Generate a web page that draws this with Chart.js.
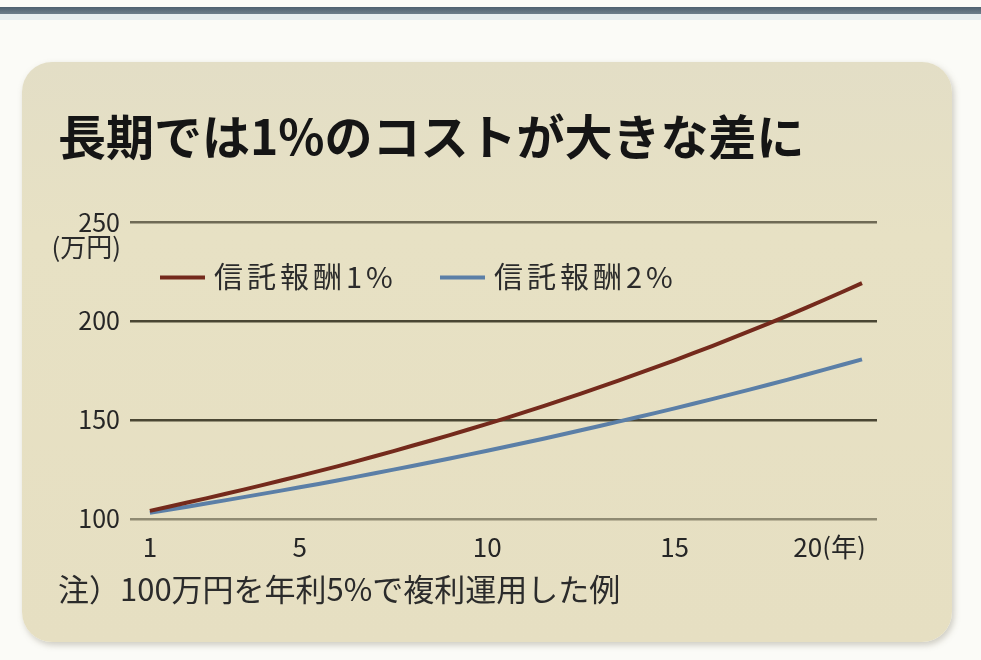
<!DOCTYPE html>
<html lang="ja">
<head>
<meta charset="utf-8">
<script src="https://cdn.jsdelivr.net/npm/chart.js@4.4.1/dist/chart.umd.min.js"></script>
<style>
  html, body { margin: 0; padding: 0; background: #fbfbf7; }
  .wrap { position: relative; width: 981px; height: 660px; overflow: hidden; }
  .topbar { position: absolute; left: 0; top: 7px; width: 981px; height: 7px;
    background: linear-gradient(#4f6170, #6c7e8b); }
  .topbar2 { position: absolute; left: 0; top: 14px; width: 981px; height: 6px; background: #e6eef0; }
  .panel { position: absolute; left: 22px; top: 62px; width: 930px; height: 580px;
    border-radius: 30px; background: linear-gradient(#e3dec6, #e7e1c4 30%, #e6dfc2);
    box-shadow: 2px 3px 6px rgba(120,115,95,0.35); }
  canvas { position: absolute; left: 0; top: 0; }
</style>
</head>
<body>
<div class="wrap">
  <div class="topbar"></div>
  <div class="topbar2"></div>
  <div class="panel"></div>
  <canvas id="costChart" width="981" height="660"></canvas>
</div>
<script>
const years = [1, 2, 3, 4, 5, 6, 7, 8, 9, 10, 11, 12, 13, 14, 15, 16, 17, 18, 19, 20];
const fee1 = [104, 108.2, 112.5, 117, 121.7, 126.5, 131.6, 136.9, 142.3, 148, 153.9, 160.1, 166.5, 173.2, 180.1, 187.3, 194.8, 202.6, 210.7, 219.1];
const fee2 = [103, 106.1, 109.3, 112.6, 115.9, 119.4, 123, 126.7, 130.5, 134.4, 138.4, 142.6, 146.9, 151.3, 155.8, 160.5, 165.3, 170.2, 175.4, 180.6];
const seriesNames = ["信託報酬1%", "信託報酬2%"];
const xTicks = [1, 5, 10, 15, 20];
const yTicks = [100, 150, 200, 250];

const FONT = "'Noto Sans CJK JP', 'Noto Sans', sans-serif";
const RED = "#742a1c";
const BLUE = "#5b7fa7";

// legend + unit label drawn inside the plot, like the print original
const insideLegend = {
  id: "insideLegend",
  afterDraw(chart) {
    const ctx = chart.ctx;
    const area = chart.chartArea;
    const y = chart.scales.y;
    const ly = y.getPixelForValue(222);
    ctx.save();
    ctx.font = "29px " + FONT;
    ctx.letterSpacing = "4px";
    ctx.textBaseline = "middle";
    chart.data.datasets.forEach((ds, i) => {
      const x0 = area.left + 30 + i * 280;
      ctx.strokeStyle = ds.borderColor;
      ctx.lineWidth = 4;
      ctx.beginPath();
      ctx.moveTo(x0, ly);
      ctx.lineTo(x0 + 45, ly);
      ctx.stroke();
      ctx.fillStyle = "#2b2b2b";
      ctx.textAlign = "left";
      ctx.fillText(ds.label, x0 + 54, ly);
    });
    ctx.letterSpacing = "0px";
    ctx.font = "26px " + FONT;
    ctx.textAlign = "right";
    ctx.fillStyle = "#2b2b2b";
    ctx.fillText("(万円)", area.left - 9, y.getPixelForValue(250) + 25);
    ctx.restore();
  },
};

new Chart(document.getElementById("costChart"), {
  type: "line",
  data: {
    datasets: [
      {
        label: seriesNames[0],
        data: years.map((yr, i) => ({ x: yr, y: fee1[i] })),
        borderColor: RED,
        borderWidth: 4,
        pointRadius: 0,
        tension: 0.3,
      },
      {
        label: seriesNames[1],
        data: years.map((yr, i) => ({ x: yr, y: fee2[i] })),
        borderColor: BLUE,
        borderWidth: 4,
        pointRadius: 0,
        tension: 0.3,
      },
    ],
  },
  options: {
    responsive: false,
    animation: false,
    layout: { padding: { left: 58, right: 104, top: 60, bottom: 46 } },
    plugins: {
      legend: { display: false },
      tooltip: { enabled: false },
      title: {
        display: true,
        text: "長期では1%のコストが大きな差に",
        align: "start",
        color: "#151515",
        font: { family: FONT, size: 48, weight: "bold", lineHeight: 1.25 },
        padding: { top: 47, bottom: 55 },
      },
      subtitle: {
        display: true,
        position: "bottom",
        text: "注）100万円を年利5%で複利運用した例",
        align: "start",
        color: "#2b2b2b",
        font: { family: FONT, size: 31, lineHeight: 1.2 },
        padding: { top: 11, bottom: 6 },
      },
    },
    scales: {
      x: {
        type: "linear",
        min: 0.47,
        max: 20.4,
        afterBuildTicks: (scale) => {
          scale.ticks = xTicks.map((v) => ({ value: v }));
        },
        afterFit: (scale) => {
          scale.height = 41;
        },
        grid: { display: false, drawTicks: false },
        border: { display: false },
        ticks: {
          padding: 13,
          color: "#262626",
          font: { family: FONT, size: 26 },
          // the last label sits flush with the grid end in the original
          callback: (v) => (v === 20 ? "20(年)\u2003\u2003\u2002" : String(v)),
        },
      },
      y: {
        min: 100,
        max: 250,
        afterBuildTicks: (scale) => {
          scale.ticks = yTicks.map((v) => ({ value: v }));
        },
        afterFit: (scale) => {
          scale.width = 72;
        },
        grid: {
          color: (c) => (c.tick.value === 100 ? "#8f8a72" : c.tick.value === 250 ? "#6f6a55" : "#4a4633"),
          lineWidth: 2.5,
          drawTicks: false,
        },
        border: { display: false },
        ticks: {
          padding: 10,
          color: "#262626",
          font: { family: FONT, size: 25 },
        },
      },
    },
  },
  plugins: [insideLegend],
});
</script>
</body>
</html>
